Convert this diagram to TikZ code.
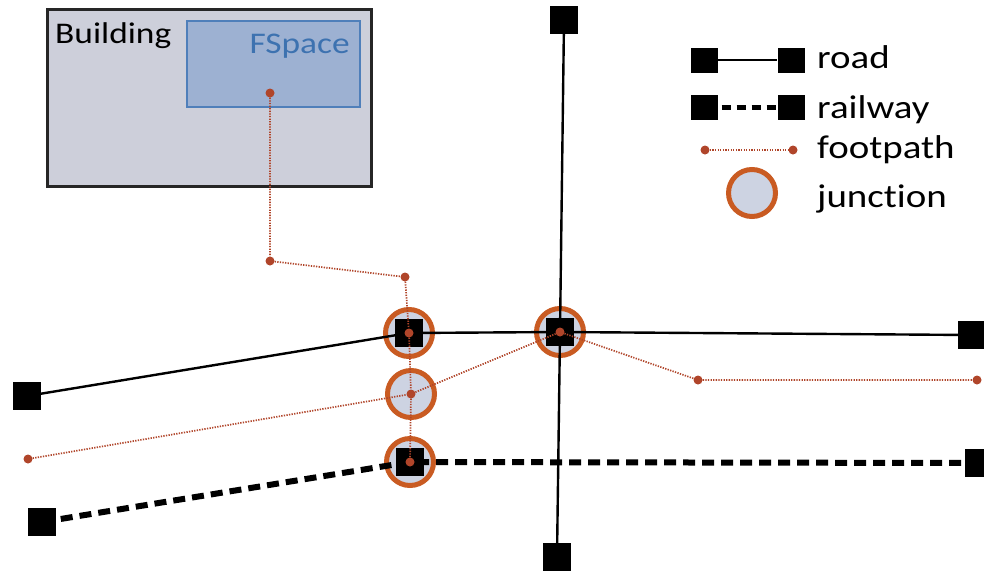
\documentclass[tikz,border=0pt]{standalone}
\usepackage{fontspec}
\setmainfont{Carlito}[FakeStretch=1.18, Ligatures=NoCommon, RawFeature={-liga;-clig;-calt}]
\definecolor{fpcol}{HTML}{B0452A}
\definecolor{jcol}{HTML}{C95B22}
\definecolor{jfill}{HTML}{CDD3E2}
\definecolor{bfill}{HTML}{CDCFDA}
\definecolor{ffill}{HTML}{9DB1D2}
\definecolor{fdraw}{HTML}{4F7FBA}
\definecolor{ftext}{HTML}{3D72B0}
\tikzset{
  sq/.style={rectangle, fill=black, minimum size=28pt, inner sep=0pt},
  fdot/.style={circle, fill=fpcol, minimum size=9pt, inner sep=0pt},
  junc/.style={circle, fill=jfill, draw=jcol, line width=5pt, minimum size=47pt, inner sep=0pt},
  road/.style={line width=2.4pt, black},
  rail/.style={line width=6pt, black, dash pattern=on 12pt off 7pt},
  foot/.style={line width=1.7pt, fpcol, dash pattern=on 1.3pt off 1.3pt},
  lbl/.style={inner sep=0pt, font=\fontsize{33}{36}\selectfont},
}
\begin{document}
\begin{tikzpicture}[x=1pt, y=-1pt]
\path[use as bounding box] (0,0) rectangle (984,571);
% building
\node[draw=black!85, line width=3pt, fill=bfill, minimum width=324pt, minimum height=177pt, inner sep=0pt] (bld) at (209,97.5) {};
\node[draw=fdraw, line width=2pt, fill=ffill, minimum width=173pt, minimum height=86pt, inner sep=0pt] (fsp) at (273.5,64) {};
\node[lbl, anchor=base west, font=\fontsize{30}{34}\selectfont] (bldt) at (55,43) {Building};
\node[lbl, anchor=base east, text=ftext, font=\fontsize{30}{34}\selectfont] (fspt) at (350,53) {FSpace};
% junctions
\node[junc] (J1) at (409,333) {};
\node[junc] (J2) at (411,394) {};
\node[junc] (J3) at (410,462) {};
\node[junc] (J4) at (560,332) {};
% road end squares
\node[sq] (rT) at (564,20) {};
\node[sq] (rB) at (557,557) {};
\node[sq] (rL) at (27,396) {};
\node[sq] (rR) at (972,335) {};
\node[sq] (wL) at (42,522) {};
\node[sq] (wR) at (979,463) {};
% roads
\draw[road] (rL.center) -- (J1.center) -- (J4.center) -- (rR.center);
\draw[road] (rT.center) -- (J4.center) -- (rB.center);
\draw[rail] (wL.center) -- (J3.center) -- (wR.center);
% junction squares
\node[sq] (s1) at (J1) {};
\node[sq] (s3) at (J3) {};
\node[sq] (s4) at (J4) {};
% footpath points
\node[fdot] (f0) at (270,93) {};
\node[fdot] (f1) at (270,261) {};
\node[fdot] (f2) at (405,277) {};
\node[fdot] (d1) at (J1) {};
\node[fdot] (d2) at (J2) {};
\node[fdot] (d3) at (J3) {};
\node[fdot] (d4) at (J4) {};
\node[fdot] (fL) at (28,459) {};
\node[fdot] (fR1) at (698,380) {};
\node[fdot] (fR2) at (977,380) {};
\draw[foot] (f0) -- (f1) -- (f2) -- (d1) -- (d2) -- (d3);
\draw[foot] (fL) -- (d2) -- (d4) -- (fR1) -- (fR2);
% legend
\node[sq, minimum width=27pt, minimum height=25pt] (l1) at (704,60) {};
\node[sq, minimum width=27pt, minimum height=25pt] (l2) at (791,60) {};
\draw[line width=2pt] (l1) -- (l2);
\node[lbl, anchor=base west] (t1) at (817,68) {road};
\node[sq, minimum width=27pt, minimum height=25pt] (l3) at (704,107) {};
\node[sq, minimum width=27pt, minimum height=25pt] (l4) at (791,107) {};
\draw[line width=5pt, dash pattern=on 9pt off 6pt] ([xshift=4pt]l3.east) -- (l4.west);
\node[lbl, anchor=base west] (t2) at (817,118) {railway};
\node[fdot] (l5) at (705,150) {};
\node[fdot] (l6) at (793,150) {};
\draw[foot] (l5) -- (l6);
\node[lbl, anchor=base west] (t3) at (817,158) {footpath};
\node[junc] (l7) at (752,193) {};
\node[lbl, anchor=base west] (t4) at (817,207) {junct\kern0pt ion};
\end{tikzpicture}
\end{document}
